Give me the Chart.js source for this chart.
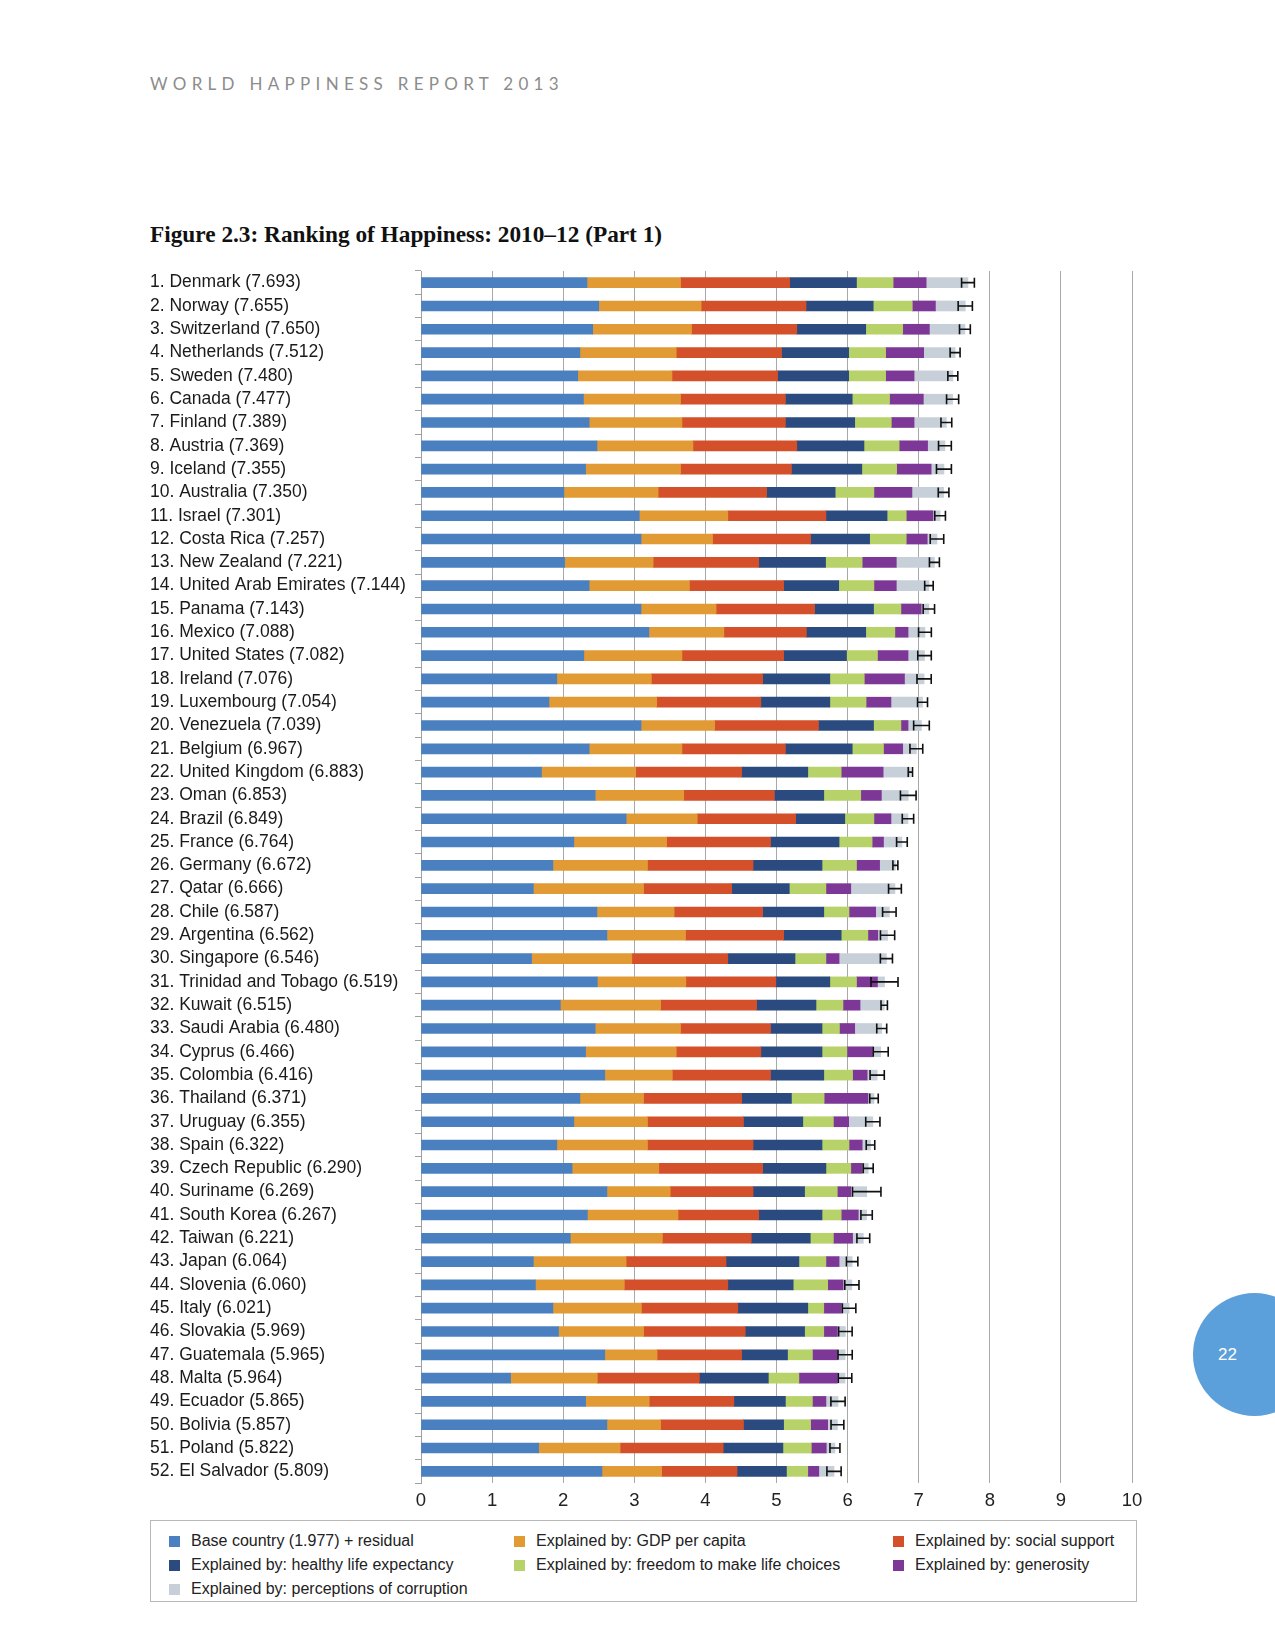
<!DOCTYPE html>
<html>
<head>
<meta charset="utf-8">
<script src="https://cdn.jsdelivr.net/npm/chart.js@4.4.0/dist/chart.umd.min.js"></script>
<style>
  html, body { margin: 0; padding: 0; background: #fff; }
  body { width: 1275px; height: 1650px; position: relative; overflow: hidden; font-family: "Liberation Sans", Arial, sans-serif; }
  #header { position: absolute; left: 150px; top: 73px; font-family: Lato, "Open Sans", sans-serif; font-weight: 400; font-size: 17px; letter-spacing: 5.3px; color: #8c8c8c; }
  #title { position: absolute; left: 150px; top: 221px; font-family: "Liberation Serif", serif; font-weight: bold; font-size: 23.3px; color: #111; }
  #wrap { position: absolute; left: 0; top: 255px; width: 1275px; height: 1262px; }
  #legend { position: absolute; left: 150px; top: 1520px; width: 985px; height: 80px; border: 1px solid #b8b8b8; }
  .item { position: absolute; font-size: 16px; color: #222; white-space: nowrap; line-height: 18px; }
  .item span { display: inline-block; width: 11px; height: 11px; margin-right: 11px; vertical-align: -1px; }
  #page { position: absolute; left: 1193px; top: 1293px; width: 123px; height: 123px; border-radius: 50%; background: #5b9fdb; color: #fff; font-size: 17px; line-height: 123px; text-indent: 25px; }
</style>
</head>
<body>
<div id="header">WORLD HAPPINESS REPORT 2013</div>
<div id="title">Figure 2.3: Ranking of Happiness: 2010–12 (Part 1)</div>
<div id="wrap"><canvas id="chart" width="1275" height="1262"></canvas></div>
<div id="legend"></div>
<div id="page">22</div>
<script>
const countries = ['Denmark', 'Norway', 'Switzerland', 'Netherlands', 'Sweden', 'Canada', 'Finland', 'Austria', 'Iceland', 'Australia',
  'Israel', 'Costa Rica', 'New Zealand', 'United Arab Emirates', 'Panama', 'Mexico', 'United States', 'Ireland', 'Luxembourg', 'Venezuela',
  'Belgium', 'United Kingdom', 'Oman', 'Brazil', 'France', 'Germany', 'Qatar', 'Chile', 'Argentina', 'Singapore',
  'Trinidad and Tobago', 'Kuwait', 'Saudi Arabia', 'Cyprus', 'Colombia', 'Thailand', 'Uruguay', 'Spain', 'Czech Republic', 'Suriname',
  'South Korea', 'Taiwan', 'Japan', 'Slovenia', 'Italy', 'Slovakia', 'Guatemala', 'Malta', 'Ecuador', 'Bolivia',
  'Poland', 'El Salvador'];

const scores = [7.693, 7.655, 7.650, 7.512, 7.480, 7.477, 7.389, 7.369, 7.355, 7.350,
  7.301, 7.257, 7.221, 7.144, 7.143, 7.088, 7.082, 7.076, 7.054, 7.039,
  6.967, 6.883, 6.853, 6.849, 6.764, 6.672, 6.666, 6.587, 6.562, 6.546,
  6.519, 6.515, 6.480, 6.466, 6.416, 6.371, 6.355, 6.322, 6.290, 6.269,
  6.267, 6.221, 6.064, 6.060, 6.021, 5.969, 5.965, 5.964, 5.865, 5.857,
  5.822, 5.809];

const baseResidual = [2.335, 2.500, 2.415, 2.235, 2.205, 2.285, 2.365, 2.475, 2.315, 2.010,
  3.070, 3.095, 2.020, 2.365, 3.095, 3.205, 2.290, 1.910, 1.800, 3.095,
  2.365, 1.695, 2.450, 2.885, 2.150, 1.855, 1.580, 2.475, 2.615, 1.555,
  2.480, 1.960, 2.450, 2.315, 2.585, 2.235, 2.150, 1.910, 2.125, 2.615,
  2.340, 2.100, 1.580, 1.610, 1.855, 1.935, 2.585, 1.260, 2.315, 2.615,
  1.655, 2.545];

const gdp = [1.315, 1.440, 1.390, 1.355, 1.325, 1.365, 1.305, 1.350, 1.335, 1.325,
  1.245, 1.005, 1.245, 1.410, 1.055, 1.055, 1.380, 1.330, 1.515, 1.035,
  1.305, 1.325, 1.245, 1.000, 1.305, 1.330, 1.550, 1.085, 1.105, 1.410,
  1.245, 1.410, 1.200, 1.275, 0.950, 0.895, 1.035, 1.275, 1.220, 0.890,
  1.275, 1.295, 1.305, 1.250, 1.245, 1.195, 0.735, 1.220, 0.895, 0.755,
  1.145, 0.840];

const social = [1.535, 1.475, 1.480, 1.480, 1.485, 1.475, 1.455, 1.460, 1.560, 1.525,
  1.380, 1.380, 1.485, 1.325, 1.385, 1.160, 1.430, 1.565, 1.465, 1.460,
  1.455, 1.490, 1.275, 1.385, 1.460, 1.485, 1.240, 1.245, 1.380, 1.350,
  1.265, 1.350, 1.265, 1.190, 1.380, 1.380, 1.350, 1.485, 1.460, 1.165,
  1.135, 1.250, 1.405, 1.455, 1.355, 1.430, 1.190, 1.435, 1.190, 1.165,
  1.450, 1.060];

const health = [0.940, 0.945, 0.970, 0.945, 1.000, 0.940, 0.975, 0.945, 0.990, 0.965,
  0.860, 0.830, 0.940, 0.775, 0.830, 0.835, 0.885, 0.945, 0.970, 0.775,
  0.940, 0.930, 0.695, 0.690, 0.965, 0.970, 0.810, 0.860, 0.810, 0.945,
  0.760, 0.835, 0.725, 0.860, 0.750, 0.700, 0.835, 0.970, 0.890, 0.725,
  0.890, 0.830, 1.025, 0.920, 0.985, 0.835, 0.645, 0.970, 0.725, 0.565,
  0.840, 0.695];

const freedom = [0.515, 0.550, 0.520, 0.520, 0.520, 0.525, 0.515, 0.495, 0.490, 0.545,
  0.270, 0.515, 0.515, 0.495, 0.385, 0.410, 0.435, 0.485, 0.510, 0.385,
  0.440, 0.470, 0.520, 0.410, 0.465, 0.485, 0.515, 0.355, 0.375, 0.435,
  0.375, 0.380, 0.245, 0.350, 0.405, 0.460, 0.430, 0.380, 0.350, 0.460,
  0.270, 0.325, 0.380, 0.485, 0.225, 0.270, 0.350, 0.430, 0.380, 0.380,
  0.400, 0.300];

const generosity = [0.465, 0.325, 0.375, 0.535, 0.400, 0.475, 0.320, 0.400, 0.485, 0.535,
  0.375, 0.295, 0.480, 0.315, 0.285, 0.185, 0.430, 0.565, 0.350, 0.100,
  0.270, 0.590, 0.290, 0.240, 0.160, 0.325, 0.350, 0.375, 0.140, 0.185,
  0.295, 0.240, 0.215, 0.360, 0.205, 0.615, 0.215, 0.185, 0.160, 0.190,
  0.240, 0.270, 0.185, 0.215, 0.245, 0.190, 0.350, 0.540, 0.190, 0.240,
  0.210, 0.155];

const corruption = [0.588, 0.420, 0.500, 0.442, 0.545, 0.412, 0.454, 0.244, 0.180, 0.445,
  0.101, 0.137, 0.536, 0.459, 0.108, 0.238, 0.232, 0.276, 0.444, 0.189,
  0.192, 0.383, 0.378, 0.239, 0.259, 0.222, 0.621, 0.192, 0.137, 0.666,
  0.099, 0.340, 0.380, 0.116, 0.141, 0.086, 0.340, 0.117, 0.085, 0.224,
  0.117, 0.151, 0.184, 0.125, 0.111, 0.114, 0.110, 0.109, 0.170, 0.137,
  0.122, 0.214];

// half width of the confidence whisker around each score
const ciHalf = [0.090, 0.100, 0.076, 0.070, 0.070, 0.085, 0.076, 0.090, 0.105, 0.075,
  0.075, 0.095, 0.070, 0.060, 0.080, 0.090, 0.095, 0.100, 0.070, 0.110,
  0.090, 0.030, 0.110, 0.080, 0.075, 0.035, 0.090, 0.095, 0.100, 0.085,
  0.190, 0.045, 0.070, 0.105, 0.100, 0.060, 0.100, 0.060, 0.070, 0.200,
  0.080, 0.090, 0.080, 0.100, 0.095, 0.095, 0.100, 0.095, 0.100, 0.090,
  0.070, 0.100];

const xTicks = [0, 1, 2, 3, 4, 5, 6, 7, 8, 9, 10];

const seriesNames = ['Base country (1.977) + residual', 'Explained by: GDP per capita', 'Explained by: social support',
  'Explained by: healthy life expectancy', 'Explained by: freedom to make life choices', 'Explained by: generosity',
  'Explained by: perceptions of corruption'];
const seriesData = [baseResidual, gdp, social, health, freedom, generosity, corruption];
const colors = ['#4a80c0', '#e29b34', '#d4502b', '#2b4b80', '#b6d268', '#7d3797', '#c7d0d9'];

const labels = countries.map((c, i) => `${i + 1}. ${c} (${scores[i].toFixed(3)})`);

// legend, laid out in three columns like the report
const legendPos = [[18, 11], [363, 11], [742, 11], [18, 35], [363, 35], [742, 35], [18, 59]];
const legend = document.getElementById('legend');
seriesNames.forEach((name, i) => {
  const d = document.createElement('div');
  d.className = 'item';
  d.style.left = legendPos[i][0] + 'px';
  d.style.top = legendPos[i][1] + 'px';
  d.innerHTML = `<span style="background:${colors[i]}"></span>${name}`;
  legend.appendChild(d);
});

const whiskers = {
  id: 'whiskers',
  afterDatasetsDraw(chart) {
    const { ctx, scales: { x, y } } = chart;
    ctx.save();
    ctx.strokeStyle = '#111';
    ctx.lineWidth = 1.6;
    scores.forEach((s, i) => {
      const yc = y.getPixelForValue(i);
      const x1 = x.getPixelForValue(s - ciHalf[i]);
      const x2 = x.getPixelForValue(s + ciHalf[i]);
      ctx.beginPath();
      ctx.moveTo(x1, yc); ctx.lineTo(x2, yc);
      ctx.moveTo(x1, yc - 5); ctx.lineTo(x1, yc + 5);
      ctx.moveTo(x2, yc - 5); ctx.lineTo(x2, yc + 5);
      ctx.stroke();
    });
    ctx.restore();
  }
};

new Chart(document.getElementById('chart').getContext('2d'), {
  type: 'bar',
  data: {
    labels: labels,
    datasets: seriesData.map((d, i) => ({
      label: seriesNames[i],
      data: d,
      backgroundColor: colors[i],
      barThickness: 10,
      borderWidth: 0
    }))
  },
  options: {
    indexAxis: 'y',
    responsive: false,
    animation: false,
    layout: { padding: { left: 150, top: 16, right: 143, bottom: 0 } },
    plugins: { legend: { display: false }, tooltip: { enabled: false } },
    scales: {
      x: {
        stacked: true,
        min: 0,
        max: 10,
        afterBuildTicks: (scale) => { scale.ticks = xTicks.map(v => ({ value: v })); },
        afterFit: (scale) => { scale.height = 34; },
        grid: { color: '#a8a8a8', drawTicks: false },
        border: { display: false },
        ticks: { padding: 7, color: '#222', font: { family: 'Liberation Sans', size: 18.5 } }
      },
      y: {
        stacked: true,
        afterFit: (scale) => { scale.width = 271; },
        grid: { drawOnChartArea: false, offset: true, tickLength: 6, color: '#a0a0a0' },
        border: { display: true, color: '#a0a0a0' },
        ticks: { autoSkip: false, crossAlign: 'far', color: '#1a1a1a', font: { family: 'Liberation Sans', size: 17.5 } }
      }
    }
  },
  plugins: [whiskers]
});
</script>
</body>
</html>
